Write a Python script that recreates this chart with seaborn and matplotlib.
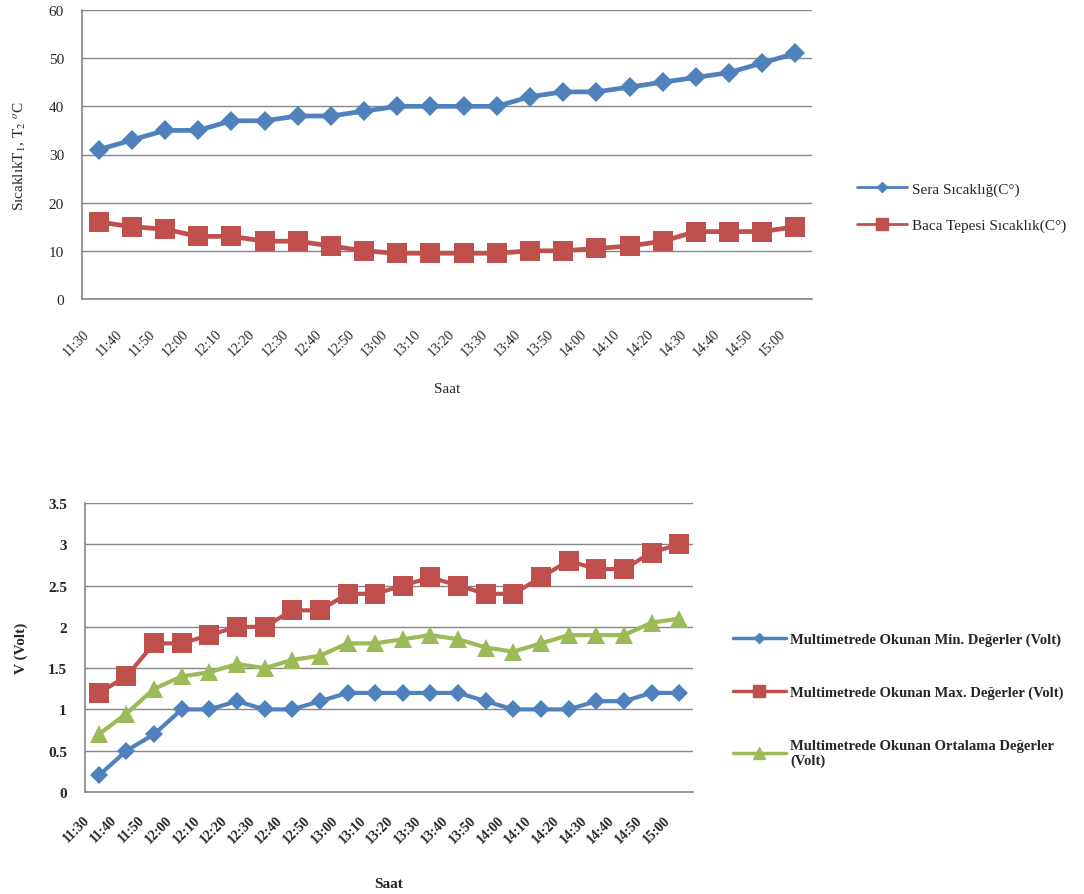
import matplotlib
matplotlib.use("Agg")
import matplotlib.pyplot as plt
import matplotlib.transforms as mtransforms
import seaborn as sns
import pandas as pd
import numpy as np
from matplotlib.lines import Line2D

# Time of day for each reading
saat = ["11:30", "11:40", "11:50", "12:00", "12:10", "12:20", "12:30", "12:40",
        "12:50", "13:00", "13:10", "13:20", "13:30", "13:40", "13:50", "14:00",
        "14:10", "14:20", "14:30", "14:40", "14:50", "15:00"]

# Temperatures (°C)
sera_sicaklik = [31, 33, 35, 35, 37, 37, 38, 38, 39, 40, 40, 40, 40, 42, 43, 43,
                 44, 45, 46, 47, 49, 51]
baca_sicaklik = [16, 15, 14.5, 13, 13, 12, 12, 11, 10, 9.5, 9.5, 9.5, 9.5, 10, 10,
                 10.5, 11, 12, 14, 14, 14, 15]

# Multimeter readings (Volt)
v_min = [0.2, 0.5, 0.7, 1.0, 1.0, 1.1, 1.0, 1.0, 1.1, 1.2, 1.2, 1.2, 1.2, 1.2,
         1.1, 1.0, 1.0, 1.0, 1.1, 1.1, 1.2, 1.2]
v_max = [1.2, 1.4, 1.8, 1.8, 1.9, 2.0, 2.0, 2.2, 2.2, 2.4, 2.4, 2.5, 2.6, 2.5,
         2.4, 2.4, 2.6, 2.8, 2.7, 2.7, 2.9, 3.0]
v_ort = [0.7, 0.95, 1.25, 1.4, 1.45, 1.55, 1.5, 1.6, 1.65, 1.8, 1.8, 1.85, 1.9,
         1.85, 1.75, 1.7, 1.8, 1.9, 1.9, 1.9, 2.05, 2.1]

top_labels = ["Sera Sıcaklığ(C°)", "Baca Tepesi Sıcaklık(C°)"]
bottom_labels = ["Multimetrede Okunan Min. Değerler (Volt)",
                 "Multimetrede Okunan Max. Değerler (Volt)",
                 "Multimetrede Okunan Ortalama Değerler\n(Volt)"]

BLUE, RED, GREEN = "#4F81BD", "#C0504D", "#9BBB59"
GRID = "#868686"

sns.set_style("white")
plt.rcParams["font.family"] = ["Liberation Serif", "DejaVu Serif"]
plt.rcParams["mathtext.fontset"] = "stix"

W, H = 1084, 895
fig = plt.figure(figsize=(W / 100, H / 100), dpi=100)


def box(l, t, r, b):
    return [l / W, 1 - b / H, (r - l) / W, (b - t) / H]


ax1 = fig.add_axes(box(82, 11, 812, 300))
ax2 = fig.add_axes(box(85, 504, 693, 793))

x = np.arange(len(saat))

df_top = pd.DataFrame({"x": np.tile(x, 2),
                       "val": sera_sicaklik + baca_sicaklik,
                       "seri": np.repeat(top_labels, len(saat))})
df_bot = pd.DataFrame({"x": np.tile(x, 3),
                       "val": v_min + v_max + v_ort,
                       "seri": np.repeat(bottom_labels, len(saat))})

sns.lineplot(data=df_top, x="x", y="val", hue="seri", style="seri",
             palette=[BLUE, RED], markers=["D", "s"], dashes=False,
             markersize=10.5, linewidth=3.4, markeredgewidth=0, ax=ax1, legend=False)
ax1.lines[1].set_markersize(14)

sns.lineplot(data=df_bot, x="x", y="val", hue="seri", style="seri",
             palette=[BLUE, RED, GREEN], markers=["D", "s", "^"], dashes=False,
             markersize=9, linewidth=3.0, markeredgewidth=0, ax=ax2, legend=False)
ax2.lines[1].set_markersize(14)
ax2.lines[2].set_markersize(13)


def style_axes(ax, ymax, ystep, fontweight, xpad):
    ax.set_xlim(-0.5, len(saat) - 0.5)
    ax.set_ylim(0, ymax)
    yt = np.arange(0, ymax + ystep / 2, ystep)
    ax.set_yticks(yt)
    ax.set_yticklabels([f"{v:g}" for v in yt], fontsize=11, fontweight=fontweight)
    ax.set_xticks(x)
    ax.yaxis.grid(True, color=GRID, linewidth=1.0)
    ax.xaxis.grid(False)
    ax.set_axisbelow(True)
    for s in ("top", "right"):
        ax.spines[s].set_visible(False)
    for s in ("left", "bottom"):
        ax.spines[s].set_color(GRID)
        ax.spines[s].set_linewidth(1.2)
    ax.tick_params(axis="y", length=5, color=GRID, width=1.2, pad=8)
    ax.tick_params(axis="x", length=0, pad=xpad)
    ax.set_xticklabels(saat, rotation=45, ha="right", rotation_mode="anchor",
                       fontsize=10, fontweight=fontweight)
    # nudge the slanted time labels to the left of their slot
    shift = mtransforms.ScaledTranslation(-16 / 100, 0, fig.dpi_scale_trans)
    for lab in ax.get_xticklabels():
        lab.set_transform(lab.get_transform() + shift)


style_axes(ax1, 60, 10, "normal", 20)
style_axes(ax2, 3.5, 0.5, "bold", 15)

ax1.set_xlabel("Saat", fontsize=11, labelpad=17)
ax1.set_ylabel("Sıcaklık" + r"T$_1$, T$_2$ $^{o}$C", fontsize=11, labelpad=15)
ax2.set_xlabel("Saat", fontsize=11, fontweight="bold", labelpad=23)
ax2.set_ylabel("V (Volt)", fontsize=11, fontweight="bold", labelpad=14)

# Legends to the right of each plot
h_top = [Line2D([], [], color=BLUE, lw=2, marker="D", markersize=5),
         Line2D([], [], color=RED, lw=2, marker="s", markersize=8)]
fig.legend(h_top, top_labels, loc="center left",
           bbox_to_anchor=(843 / W, 1 - 208 / H), frameon=False,
           fontsize=11, handlelength=3.3, handletextpad=0.3, labelspacing=1.5)

h_bot = [Line2D([], [], color=BLUE, lw=2.5, marker="D", markersize=5),
         Line2D([], [], color=RED, lw=2.5, marker="s", markersize=8),
         Line2D([], [], color=GREEN, lw=2.5, marker="^", markersize=8)]
fig.legend(h_bot, bottom_labels, loc="center left",
           bbox_to_anchor=(720 / W, 1 - 701 / H), frameon=False,
           prop={"size": 10.5, "weight": "bold"},
           handlelength=3.6, handletextpad=0.3, labelspacing=2.7)

fig.savefig("out.png", dpi=100, facecolor="white")
